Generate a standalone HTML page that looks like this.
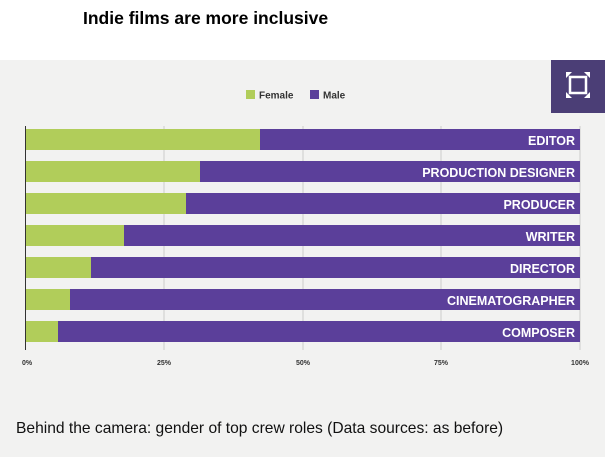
<!DOCTYPE html>
<html><head><style>
body{margin:0;width:605px;height:457px;overflow:hidden;background:#fff;font-family:"Liberation Sans",Arial,sans-serif;position:relative}
#t{position:absolute;left:83px;top:8px;font-weight:bold;font-size:17.5px;color:#000}
#g{position:absolute;left:0;top:60px;width:605px;height:397px;background:#f2f2f1}
#cap{position:absolute;left:16px;top:420px;font-size:15.6px;color:#111}
</style></head><body>
<div id="t">Indie films are more inclusive</div>
<div id="g"></div>
<svg style="position:absolute;left:0;top:0" width="605" height="457" font-family="Liberation Sans, Arial, sans-serif">
<rect x="551" y="60" width="54" height="53" fill="#4b3e76"/>
<g stroke="#fff" stroke-width="2.5" fill="none">
<rect x="570" y="77" width="16" height="16"/>
</g>
<g fill="#fff"><path d="M566 72h6l-6 6z M590 72h-6l6 6z M566 98h6l-6-6z M590 98h-6l6-6z"/></g>
<rect x="246" y="90" width="9" height="9" fill="#b1cd5a"/>
<text x="259" y="98.5" font-size="10" font-weight="bold" fill="#333">Female</text>
<rect x="310" y="90" width="9" height="9" fill="#5b3f9a"/>
<text x="323" y="98.5" font-size="10" font-weight="bold" fill="#333">Male</text>
<g stroke="#ccc" stroke-width="1">
<line x1="164" y1="126" x2="164" y2="350"/><line x1="303" y1="126" x2="303" y2="350"/>
<line x1="441" y1="126" x2="441" y2="350"/><line x1="580" y1="126" x2="580" y2="350"/>
</g>
<line x1="25.5" y1="126" x2="25.5" y2="350" stroke="#333"/>
<g font-size="12.5" font-weight="bold" fill="#fff" text-anchor="end">
<rect x="26" y="129" width="554" height="21" fill="#5b3f9a"/><rect x="26" y="129" width="234" height="21" fill="#b1cd5a"/><text x="575" y="145">EDITOR</text>
<rect x="26" y="161" width="554" height="21" fill="#5b3f9a"/><rect x="26" y="161" width="174" height="21" fill="#b1cd5a"/><text x="575" y="177">PRODUCTION DESIGNER</text>
<rect x="26" y="193" width="554" height="21" fill="#5b3f9a"/><rect x="26" y="193" width="160" height="21" fill="#b1cd5a"/><text x="575" y="209">PRODUCER</text>
<rect x="26" y="225" width="554" height="21" fill="#5b3f9a"/><rect x="26" y="225" width="98" height="21" fill="#b1cd5a"/><text x="575" y="241">WRITER</text>
<rect x="26" y="257" width="554" height="21" fill="#5b3f9a"/><rect x="26" y="257" width="65" height="21" fill="#b1cd5a"/><text x="575" y="273">DIRECTOR</text>
<rect x="26" y="289" width="554" height="21" fill="#5b3f9a"/><rect x="26" y="289" width="44" height="21" fill="#b1cd5a"/><text x="575" y="305">CINEMATOGRAPHER</text>
<rect x="26" y="321" width="554" height="21" fill="#5b3f9a"/><rect x="26" y="321" width="32" height="21" fill="#b1cd5a"/><text x="575" y="337">COMPOSER</text>
</g>
<g font-size="7" font-weight="bold" fill="#333" text-anchor="middle">
<text x="27" y="365">0%</text><text x="164" y="365">25%</text><text x="303" y="365">50%</text><text x="441" y="365">75%</text><text x="580" y="365">100%</text>
</g>
</svg>
<div id="cap">Behind the camera: gender of top crew roles (Data sources: as before)</div>
</body></html>
